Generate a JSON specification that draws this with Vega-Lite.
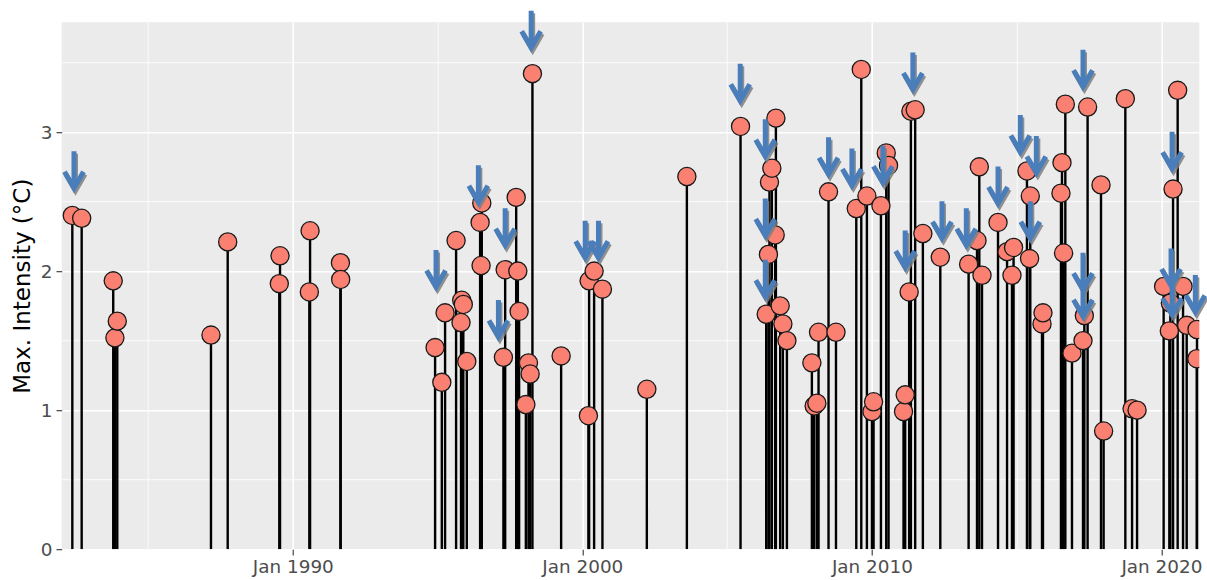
{
  "$schema": "https://vega.github.io/schema/vega-lite/v6.json",
  "width": 1137.6,
  "height": 527,
  "autosize": {"type": "none"},
  "padding": {"left": 61.7, "top": 22.2, "right": 7.7, "bottom": 30.8},
  "background": "white",
  "config": {
    "view": {"fill": "#ebebeb", "stroke": null},
    "font": "DejaVu Sans"
  },
  "datasets": {
    "events": [
      {"date": "1982-05-22", "max_intensity": 2.40},
      {"date": "1982-09-17", "max_intensity": 2.38},
      {"date": "1983-10-20", "max_intensity": 1.93},
      {"date": "1983-11-10", "max_intensity": 1.52},
      {"date": "1983-12-10", "max_intensity": 1.64},
      {"date": "1987-03-06", "max_intensity": 1.54},
      {"date": "1987-10-03", "max_intensity": 2.21},
      {"date": "1989-07-15", "max_intensity": 1.91},
      {"date": "1989-07-24", "max_intensity": 2.11},
      {"date": "1990-07-29", "max_intensity": 1.85},
      {"date": "1990-08-07", "max_intensity": 2.29},
      {"date": "1991-08-25", "max_intensity": 2.06},
      {"date": "1991-08-28", "max_intensity": 1.94},
      {"date": "1994-12-01", "max_intensity": 1.45},
      {"date": "1995-02-24", "max_intensity": 1.20},
      {"date": "1995-04-06", "max_intensity": 1.70},
      {"date": "1995-08-23", "max_intensity": 2.22},
      {"date": "1995-10-24", "max_intensity": 1.63},
      {"date": "1995-11-02", "max_intensity": 1.79},
      {"date": "1995-11-22", "max_intensity": 1.76},
      {"date": "1996-01-05", "max_intensity": 1.35},
      {"date": "1996-06-21", "max_intensity": 2.35},
      {"date": "1996-07-03", "max_intensity": 2.04},
      {"date": "1996-07-12", "max_intensity": 2.49},
      {"date": "1997-04-11", "max_intensity": 1.38},
      {"date": "1997-05-03", "max_intensity": 2.01},
      {"date": "1997-09-19", "max_intensity": 2.53},
      {"date": "1997-10-10", "max_intensity": 2.00},
      {"date": "1997-10-26", "max_intensity": 1.71},
      {"date": "1998-01-19", "max_intensity": 1.04},
      {"date": "1998-02-21", "max_intensity": 1.34},
      {"date": "1998-03-14", "max_intensity": 1.26},
      {"date": "1998-04-12", "max_intensity": 3.42},
      {"date": "1999-04-09", "max_intensity": 1.39},
      {"date": "2000-03-18", "max_intensity": 0.96},
      {"date": "2000-03-27", "max_intensity": 1.93},
      {"date": "2000-05-29", "max_intensity": 2.00},
      {"date": "2000-09-11", "max_intensity": 1.87},
      {"date": "2002-03-25", "max_intensity": 1.15},
      {"date": "2003-08-12", "max_intensity": 2.68},
      {"date": "2005-06-19", "max_intensity": 3.04},
      {"date": "2006-05-09", "max_intensity": 1.69},
      {"date": "2006-06-06", "max_intensity": 2.12},
      {"date": "2006-06-19", "max_intensity": 2.64},
      {"date": "2006-07-19", "max_intensity": 2.74},
      {"date": "2006-08-30", "max_intensity": 2.26},
      {"date": "2006-09-08", "max_intensity": 3.10},
      {"date": "2006-11-01", "max_intensity": 1.75},
      {"date": "2006-12-05", "max_intensity": 1.62},
      {"date": "2007-01-25", "max_intensity": 1.50},
      {"date": "2007-12-06", "max_intensity": 1.34},
      {"date": "2008-01-04", "max_intensity": 1.03},
      {"date": "2008-02-07", "max_intensity": 1.05},
      {"date": "2008-02-28", "max_intensity": 1.56},
      {"date": "2008-07-03", "max_intensity": 2.57},
      {"date": "2008-10-05", "max_intensity": 1.56},
      {"date": "2009-06-18", "max_intensity": 2.45},
      {"date": "2009-08-20", "max_intensity": 3.45},
      {"date": "2009-10-30", "max_intensity": 2.54},
      {"date": "2010-01-02", "max_intensity": 0.99},
      {"date": "2010-01-22", "max_intensity": 1.06},
      {"date": "2010-04-25", "max_intensity": 2.47},
      {"date": "2010-07-01", "max_intensity": 2.85},
      {"date": "2010-07-30", "max_intensity": 2.76},
      {"date": "2011-02-04", "max_intensity": 0.99},
      {"date": "2011-02-25", "max_intensity": 1.11},
      {"date": "2011-04-16", "max_intensity": 1.85},
      {"date": "2011-05-08", "max_intensity": 3.15},
      {"date": "2011-07-01", "max_intensity": 3.16},
      {"date": "2011-10-06", "max_intensity": 2.27},
      {"date": "2012-05-13", "max_intensity": 2.10},
      {"date": "2013-05-05", "max_intensity": 2.05},
      {"date": "2013-08-19", "max_intensity": 2.22},
      {"date": "2013-09-17", "max_intensity": 2.75},
      {"date": "2013-10-21", "max_intensity": 1.97},
      {"date": "2014-05-11", "max_intensity": 2.35},
      {"date": "2014-09-02", "max_intensity": 2.14},
      {"date": "2014-11-03", "max_intensity": 1.97},
      {"date": "2014-11-23", "max_intensity": 2.17},
      {"date": "2015-05-11", "max_intensity": 2.72},
      {"date": "2015-06-13", "max_intensity": 2.09},
      {"date": "2015-06-22", "max_intensity": 2.54},
      {"date": "2015-11-17", "max_intensity": 1.62},
      {"date": "2015-11-29", "max_intensity": 1.70},
      {"date": "2016-07-13", "max_intensity": 2.56},
      {"date": "2016-07-26", "max_intensity": 2.78},
      {"date": "2016-08-15", "max_intensity": 2.13},
      {"date": "2016-09-06", "max_intensity": 3.20},
      {"date": "2016-11-29", "max_intensity": 1.41},
      {"date": "2017-04-17", "max_intensity": 1.50},
      {"date": "2017-05-04", "max_intensity": 1.68},
      {"date": "2017-06-14", "max_intensity": 3.18},
      {"date": "2017-11-30", "max_intensity": 2.62},
      {"date": "2018-01-02", "max_intensity": 0.85},
      {"date": "2018-10-03", "max_intensity": 3.24},
      {"date": "2018-12-27", "max_intensity": 1.01},
      {"date": "2019-02-28", "max_intensity": 1.00},
      {"date": "2020-01-29", "max_intensity": 1.89},
      {"date": "2020-04-10", "max_intensity": 1.57},
      {"date": "2020-04-23", "max_intensity": 1.77},
      {"date": "2020-05-27", "max_intensity": 2.59},
      {"date": "2020-07-24", "max_intensity": 3.30},
      {"date": "2020-09-30", "max_intensity": 1.89},
      {"date": "2020-11-15", "max_intensity": 1.61},
      {"date": "2021-03-23", "max_intensity": 1.37},
      {"date": "2021-03-25", "max_intensity": 1.58}
    ],
    "arrows": [
      {"date": "1982-06-12", "level": 2.56},
      {"date": "1994-12-13", "level": 1.85},
      {"date": "1996-05-30", "level": 2.46},
      {"date": "1997-02-07", "level": 1.49},
      {"date": "1997-05-03", "level": 2.15},
      {"date": "1998-03-27", "level": 3.57},
      {"date": "2000-02-06", "level": 2.06},
      {"date": "2000-07-23", "level": 2.06},
      {"date": "2005-06-15", "level": 3.19},
      {"date": "2006-04-27", "level": 2.79},
      {"date": "2006-04-27", "level": 2.22},
      {"date": "2006-04-27", "level": 1.78},
      {"date": "2008-07-03", "level": 2.66},
      {"date": "2009-04-24", "level": 2.58},
      {"date": "2010-05-20", "level": 2.60},
      {"date": "2011-02-25", "level": 1.99},
      {"date": "2011-06-02", "level": 3.27},
      {"date": "2012-06-03", "level": 2.20},
      {"date": "2013-04-06", "level": 2.15},
      {"date": "2014-05-11", "level": 2.45},
      {"date": "2015-02-16", "level": 2.82},
      {"date": "2015-06-22", "level": 2.20},
      {"date": "2015-09-06", "level": 2.67},
      {"date": "2017-04-17", "level": 3.29},
      {"date": "2017-04-17", "level": 1.83},
      {"date": "2017-04-17", "level": 1.64},
      {"date": "2020-05-02", "level": 1.86},
      {"date": "2020-05-15", "level": 2.70},
      {"date": "2020-05-15", "level": 1.65},
      {"date": "2021-03-04", "level": 1.67}
    ]
  },
  "layer": [
    {
      "data": {"name": "events"},
      "mark": {"type": "rule", "color": "black", "strokeWidth": 2.4, "clip": true},
      "encoding": {
        "x": {
          "field": "date", "type": "temporal",
          "scale": {"domain": [{"year": 1982, "month": 1, "date": 8}, {"year": 2021, "month": 4, "date": 23}]},
          "axis": {
            "orient": "bottom",
            "values": [{"year": 1990, "month": 1, "date": 1}, {"year": 2000, "month": 1, "date": 1}, {"year": 2010, "month": 1, "date": 1}, {"year": 2020, "month": 1, "date": 1}],
            "format": "%b %Y", "title": null, "domain": false,
            "labelFontSize": 18.4, "labelColor": "#4d4d4d", "labelPadding": 3,
            "tickColor": "#333333", "tickSize": 5.7, "tickWidth": 1.1,
            "grid": true, "gridColor": "white", "gridWidth": 1.6
          }
        },
        "y": {
          "field": "max_intensity", "type": "quantitative",
          "scale": {"domain": [0, 3.79], "nice": false, "zero": false},
          "axis": {
            "orient": "left",
            "values": [0, 1, 2, 3],
            "title": "Max. Intensity (°C)", "titleFontSize": 23, "titleFontWeight": "normal",
            "titleColor": "black", "titlePadding": 6, "domain": false,
            "labelFontSize": 18.4, "labelColor": "#4d4d4d", "labelPadding": 4,
            "tickColor": "#333333", "tickSize": 5.7, "tickWidth": 1.1,
            "grid": true, "gridColor": "white", "gridWidth": 1.6
          }
        },
        "y2": {"datum": 0}
      }
    },
    {
      "data": {"name": "events"},
      "mark": {"type": "point", "shape": "circle", "filled": true, "size": 330, "fill": "#fa8072", "stroke": "#1a1a1a", "strokeWidth": 1.3, "opacity": 1, "clip": true},
      "encoding": {
        "x": {
          "field": "date", "type": "temporal",
          "axis": {
            "orient": "bottom",
            "values": [{"year": 1985, "month": 1, "date": 1}, {"year": 1995, "month": 1, "date": 1}, {"year": 2005, "month": 1, "date": 1}, {"year": 2015, "month": 1, "date": 1}],
            "labels": false, "ticks": false, "domain": false, "title": null,
            "grid": true, "gridColor": "white", "gridWidth": 0.8
          }
        },
        "y": {
          "field": "max_intensity", "type": "quantitative",
          "axis": {
            "orient": "left",
            "values": [0.5, 1.5, 2.5, 3.5],
            "labels": false, "ticks": false, "domain": false, "title": null,
            "grid": true, "gridColor": "white", "gridWidth": 0.8
          }
        }
      }
    },
    {
      "data": {"name": "arrows"},
      "mark": {
        "type": "point", "filled": false, "size": 400, "opacity": 0.85,
        "shape": "M0,-4.2L0,-0.5M-0.95,-2.15L0,-0.5L0.95,-2.15",
        "stroke": "#7f7f7f", "strokeWidth": 5, "strokeCap": "butt", "strokeJoin": "miter",
        "xOffset": 1.5, "yOffset": 2.5
      },
      "encoding": {
        "x": {"field": "date", "type": "temporal", "axis": null},
        "y": {"field": "level", "type": "quantitative", "axis": null}
      }
    },
    {
      "data": {"name": "arrows"},
      "mark": {
        "type": "point", "filled": false, "size": 400, "opacity": 1,
        "shape": "M0,-4.2L0,-0.5M-0.95,-2.15L0,-0.5L0.95,-2.15",
        "stroke": "#4a7ebb", "strokeWidth": 5, "strokeCap": "butt", "strokeJoin": "miter"
      },
      "encoding": {
        "x": {"field": "date", "type": "temporal", "axis": null},
        "y": {"field": "level", "type": "quantitative", "axis": null}
      }
    }
  ],
  "resolve": {"axis": {"x": "independent", "y": "independent"}}
}
